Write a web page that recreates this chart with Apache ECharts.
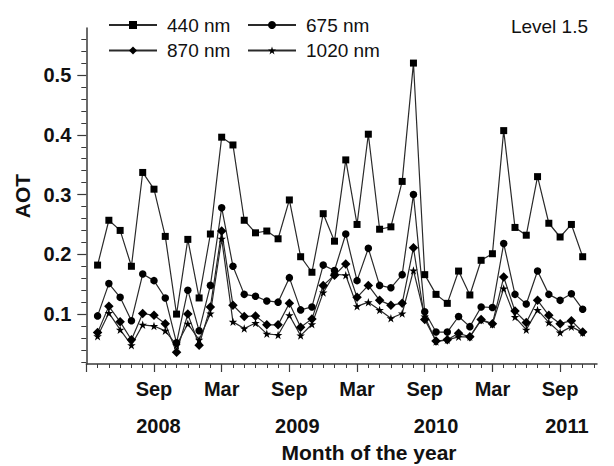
<!DOCTYPE html>
<html>
<head>
<meta charset="utf-8">
<script src="https://cdn.jsdelivr.net/npm/echarts@6/dist/echarts.min.js"></script>
<style>html,body{margin:0;padding:0;background:#fff}#c{width:614px;height:466px}</style>
</head>
<body>
<div id="c"></div>
<script>
// ---- data ----
const months = ['2008-04','2008-05','2008-06','2008-07','2008-08','2008-09','2008-10','2008-11','2008-12',
  '2009-01','2009-02','2009-03','2009-04','2009-05','2009-06','2009-07','2009-08','2009-09','2009-10','2009-11','2009-12',
  '2010-01','2010-02','2010-03','2010-04','2010-05','2010-06','2010-07','2010-08','2010-09','2010-10','2010-11','2010-12',
  '2011-01','2011-02','2011-03','2011-04','2011-05','2011-06','2011-07','2011-08','2011-09','2011-10','2011-11'];
const aot440 = [0.182,0.257,0.240,0.180,0.337,0.309,0.230,0.100,0.225,0.127,0.234,0.396,0.383,0.257,0.236,0.239,0.226,0.291,0.196,0.170,0.268,0.222,0.358,0.250,0.401,0.242,0.246,0.322,0.520,0.166,0.133,0.118,0.172,0.132,0.190,0.201,0.407,0.245,0.232,0.330,0.252,0.229,0.250,0.196];
const aot675 = [0.097,0.151,0.128,0.089,0.167,0.156,0.127,0.052,0.140,0.072,0.148,0.278,0.180,0.133,0.130,0.122,0.120,0.161,0.107,0.112,0.182,0.173,0.234,0.156,0.210,0.148,0.144,0.166,0.300,0.104,0.070,0.070,0.096,0.079,0.112,0.111,0.218,0.133,0.117,0.172,0.133,0.123,0.134,0.108];
const aot870 = [0.069,0.113,0.087,0.057,0.101,0.098,0.084,0.036,0.100,0.048,0.112,0.239,0.115,0.096,0.097,0.082,0.082,0.118,0.078,0.092,0.148,0.165,0.184,0.128,0.148,0.123,0.115,0.118,0.211,0.091,0.055,0.057,0.068,0.062,0.091,0.084,0.162,0.105,0.086,0.123,0.098,0.084,0.089,0.070];
const aot1020 = [0.063,0.102,0.074,0.048,0.082,0.080,0.072,0.048,0.084,0.057,0.101,0.226,0.087,0.076,0.085,0.067,0.065,0.098,0.064,0.083,0.136,0.167,0.165,0.113,0.120,0.107,0.093,0.101,0.173,0.096,0.054,0.057,0.062,0.062,0.090,0.083,0.143,0.095,0.074,0.107,0.086,0.069,0.079,0.069];
const seriesNames = ['440 nm','675 nm','870 nm','1020 nm'];
// x axis: months counted from March 2008
const monthTickValues = [6,12,18,24,30,36,42];
const monthTickLabels = ['Sep','Mar','Sep','Mar','Sep','Mar','Sep'];
const yearLabelValues = [6.4,18.7,31.0,42.6];
const yearLabels = ['2008','2009','2010','2011'];
const yTickValues = [0.1,0.2,0.3,0.4,0.5];
const yTickLabels = ['0.1','0.2','0.3','0.4','0.5'];
const yMinorValues = [0.02,0.04,0.06,0.08,0.12,0.14,0.16,0.18,0.22,0.24,0.26,0.28,0.32,0.34,0.36,0.38,0.42,0.44,0.46,0.48,0.52,0.54,0.56];

// ---- build ----
const X_MIN = 0, X_MAX = 45.27, Y_MIN = 0.0165, Y_MAX = 0.5787;
function monthIndex(s){ const [y,m] = s.split('-').map(Number); return (y-2008)*12 + (m-3); }
const xs = months.map(monthIndex);
const minorX = []; for (let i = 0; i <= 45; i++) minorX.push(i);
const starPath = 'path://M50,0 L61.8,35.3 L98.9,35.3 L68.9,57.1 L80.4,92.4 L50,70.6 L19.6,92.4 L31.1,57.1 L1.1,35.3 L38.2,35.3 Z';
const FONT = 'Liberation Sans, Arial, sans-serif';
const axisColor = '#3a3a3a';
const labelStyle = {fontFamily: FONT, fontWeight: 'bold', fontSize: 20, color: '#111'};

function mk(name, vals, symbol, size){
  return {
    name, type: 'line', data: vals.map((v,i)=>[xs[i], v]),
    symbol, symbolSize: size, showAllSymbol: true,
    lineStyle: {color: '#2a2a2a', width: 1.2},
    itemStyle: {color: '#000'},
    emphasis: {disabled: true}, animation: false
  };
}

const legendBase = {orient: 'vertical', top: 10, itemWidth: 48, itemHeight: 10, itemGap: 5.5,
  textStyle: {fontFamily: FONT, fontSize: 19, color: '#111', lineHeight: 20, padding: [0,0,0,5]}};

const chart = echarts.init(document.getElementById('c'), null, {renderer: 'svg'});
chart.setOption({
  animation: false,
  backgroundColor: '#fff',
  grid: {left: 86.3, right: 17, top: 28, bottom: 102},
  title: [
    {text: 'Level 1.5', right: 21, top: 12, textStyle: {fontFamily: FONT, fontWeight: 'normal', fontSize: 19, color: '#111'}},
    {text: 'Month of the year', left: 364, top: 437, textAlign: 'center', textStyle: {fontFamily: FONT, fontWeight: 'bold', fontSize: 21, color: '#111'}}
  ],
  legend: [
    Object.assign({}, legendBase, {data: [seriesNames[0], seriesNames[2]], left: 103}),
    Object.assign({}, legendBase, {data: [seriesNames[1], seriesNames[3]], left: 242})
  ],
  xAxis: [
    {type: 'value', min: X_MIN, max: X_MAX, position: 'bottom',
     axisLine: {show: true, lineStyle: {color: axisColor, width: 1.5}},
     axisTick: {show: true, customValues: [0].concat(monthTickValues), length: 8, lineStyle: {color: axisColor, width: 1.2}},
     axisLabel: {show: true, customValues: monthTickValues, margin: 14.5, ...labelStyle,
       formatter: v => { const i = monthTickValues.findIndex(t => Math.abs(t - v) < 1e-6); return i >= 0 ? monthTickLabels[i] : ''; }},
     splitLine: {show: false}},
    {type: 'value', min: X_MIN, max: X_MAX, position: 'bottom',
     axisLine: {show: false},
     axisTick: {show: true, customValues: minorX, length: 4, lineStyle: {color: axisColor, width: 1}},
     axisLabel: {show: false}, splitLine: {show: false}},
    {type: 'value', min: X_MIN, max: X_MAX, position: 'bottom',
     axisLine: {show: false}, axisTick: {show: false}, splitLine: {show: false},
     axisLabel: {show: true, customValues: yearLabelValues, margin: 52, ...labelStyle,
       formatter: v => { const i = yearLabelValues.findIndex(t => Math.abs(t - v) < 1e-6); return i >= 0 ? yearLabels[i] : ''; }}}
  ],
  yAxis: [
    {type: 'value', min: Y_MIN, max: Y_MAX, position: 'left',
     name: 'AOT', nameLocation: 'middle', nameGap: 53, nameRotate: 90,
     nameTextStyle: {fontFamily: FONT, fontWeight: 'bold', fontSize: 21, color: '#111'},
     axisLine: {show: true, lineStyle: {color: axisColor, width: 1.5}},
     axisTick: {show: true, customValues: yTickValues, length: 9, lineStyle: {color: axisColor, width: 1.2}},
     axisLabel: {show: true, customValues: yTickValues, margin: 15, ...labelStyle,
       formatter: v => { const i = yTickValues.findIndex(t => Math.abs(t - v) < 1e-6); return i >= 0 ? yTickLabels[i] : ''; }},
     splitLine: {show: false}},
    {type: 'value', min: Y_MIN, max: Y_MAX, position: 'left',
     axisLine: {show: false},
     axisTick: {show: true, customValues: yMinorValues, length: 5, lineStyle: {color: axisColor, width: 1}},
     axisLabel: {show: false}, splitLine: {show: false}}
  ],
  series: [
    mk(seriesNames[0], aot440, 'rect', 7),
    mk(seriesNames[1], aot675, 'circle', 7.5),
    mk(seriesNames[2], aot870, 'diamond', 9.5),
    mk(seriesNames[3], aot1020, starPath, 8.5)
  ]
});
</script>
</body>
</html>
